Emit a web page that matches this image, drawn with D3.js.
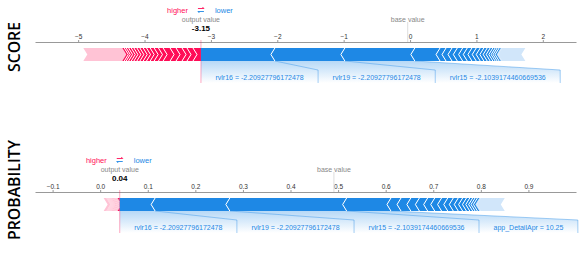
<!DOCTYPE html>
<html>
<head>
<meta charset="utf-8">
<script src="https://cdn.jsdelivr.net/npm/d3@7"></script>
<style>
  body { margin: 0; background: #fff; }
  svg { display: block; font-family: "Liberation Sans", Arial, sans-serif; }
</style>
</head>
<body>
<div id="app"></div>
<script>
// values (score units, log-odds)
const baseValue = -0.035;
const panelTitles = ["SCORE", "PROBABILITY"];
const labelNames = ["rvlr16", "rvlr19", "rvlr15", "app_DetailApr"];
const labelValues = ["-2.20927796172478", "-2.20927796172478", "-2.1039174460669536", "10.25"];
// features pushing lower, from the output value outwards
const lowerEffects = [1.114, 1.054, 1.054, 0.38, 0.09, 0.09, 0.08, 0.08, 0.07, 0.07, 0.065,
  0.06, 0.055, 0.05, 0.045, 0.04, 0.035, 0.03, 0.03, 0.025, 0.02];
const lowerRest = 0.35;
// features pushing higher, from the output value outwards
const higherEffects = [0.12, 0.09, 0.075, 0.09, 0.09, 0.105, 0.07, 0.065, 0.06, 0.055, 0.05,
  0.05, 0.045, 0.045, 0.04, 0.04, 0.035, 0.03, 0.03];
const higherRest = 0.587;
const scoreTicks = [-5, -4, -3, -2, -1, 0, 1, 2];
const probTicks = [-0.1, 0, 0.1, 0.2, 0.3, 0.4, 0.5, 0.6, 0.7, 0.8, 0.9];

const RED = "#ff0d57", RED_LIGHT = "#ffc3d5";
const BLUE = "#1e88e5", BLUE_LIGHT = "#d1e6fa";

const outputValue = baseValue + d3.sum(higherEffects) + higherRest
  - d3.sum(lowerEffects) - lowerRest;
const logistic = (v) => 1 / (1 + Math.exp(-v));

const svg = d3.select("#app").append("svg").attr("width", 586).attr("height", 256);
const defs = svg.append("defs");
const fade = defs.append("linearGradient").attr("id", "label-fade")
  .attr("x1", 0).attr("x2", 0).attr("y1", 0).attr("y2", 1);
fade.append("stop").attr("offset", "0%").attr("stop-color", BLUE).attr("stop-opacity", 0.32);
fade.append("stop").attr("offset", "100%").attr("stop-color", BLUE).attr("stop-opacity", 0);

const panels = [
  {
    title: panelTitles[0], dy: 0, titleY: 47, titleLen: 50,
    scale: d3.scaleLinear().domain([-5.65, 2.5]).range([35, 576]),
    link: (v) => v, ticks: scoreTicks, fmt: d3.format("d"),
    shown: (v) => v.toFixed(2), labelCount: 3,
  },
  {
    title: panelTitles[1], dy: 150, titleY: 190, titleLen: 100,
    scale: d3.scaleLinear().domain([-0.137, 1.0]).range([35, 576]),
    link: logistic, ticks: probTicks, fmt: d3.format(".1f"),
    shown: (v) => logistic(v).toFixed(2), labelCount: 4,
  },
];

panels.forEach((p) => {
  const g = svg.append("g").attr("transform", `translate(0,${p.dy})`);
  const px = (v) => p.scale(p.link(v));
  const outX = px(outputValue);
  const baseX = px(baseValue);
  const axisY = 42, barTop = 48, barH = 13, lblTop = 70, lblBot = 83;
  const barBot = barTop + barH, mid = barTop + barH / 2, tip = 4;

  // title
  svg.append("text")
    .attr("transform", `translate(20,${p.titleY}) rotate(-90)`)
    .attr("text-anchor", "middle")
    .attr("textLength", p.titleLen)
    .attr("lengthAdjust", "spacingAndGlyphs")
    .style("font-size", "17px")
    .style("font-weight", "600")
    .style("font-family", "'Open Sans', sans-serif")
    .style("fill", "#000")
    .text(p.title);

  // axis
  const axis = g.append("g").attr("transform", `translate(0,${axisY})`)
    .call(d3.axisTop(p.scale).tickValues(p.ticks).tickFormat(p.fmt)
      .tickSize(2).tickSizeOuter(0).tickPadding(1));
  axis.select(".domain").attr("stroke", "#999");
  axis.selectAll(".tick line").attr("stroke", "#999");
  axis.selectAll(".tick text").attr("fill", "#333").style("font-size", "6.5px")
    .style("font-family", "'Liberation Sans', Arial, sans-serif");

  // segments: dir +1 walks right from the output value, -1 walks left
  function segments(effects, rest, dir) {
    let cum = outputValue;
    return effects.concat([rest]).map((e, i) => {
      const from = cum;
      cum += dir * e;
      return { near: px(from), far: px(cum), first: i === 0, rest: i === effects.length };
    });
  }
  const lowerSegs = segments(lowerEffects, lowerRest, 1);
  const higherSegs = segments(higherEffects, higherRest, -1);

  // label boxes for the biggest lower features
  const lbl = g.append("g");
  let bx = outX;
  for (let i = 0; i < p.labelCount; i++) {
    const t = lbl.append("text").attr("y", lblBot - 3.5)
      .attr("text-anchor", "middle").style("font-size", "7px").attr("fill", BLUE)
      .text(`${labelNames[i]} = ${labelValues[i]}`);
    const w = t.node().getComputedTextLength() + 29;
    const s = lowerSegs[i];
    const x0 = Math.min(s.near, s.far), x1 = Math.max(s.near, s.far);
    lbl.insert("path", "text")
      .attr("d", `M${x0},${barBot}L${x1},${barBot}L${bx + w},${lblTop}L${bx + w},${lblBot}L${bx},${lblBot}L${bx},${lblTop}Z`)
      .attr("fill", "url(#label-fade)");
    lbl.append("path")
      .attr("d", `M${x1},${barBot}L${bx + w},${lblTop}L${bx + w},${lblBot}`)
      .attr("fill", "none").attr("stroke", BLUE).attr("stroke-opacity", 0.4).attr("stroke-width", 1);
    t.attr("x", bx + w / 2).raise();
    bx += w;
  }

  // output and base marker lines
  g.append("line").attr("x1", baseX).attr("x2", baseX).attr("y1", 22).attr("y2", axisY)
    .attr("stroke", "#ddd");
  g.append("line").attr("x1", outX).attr("x2", outX).attr("y1", axisY - 2).attr("y2", lblBot)
    .attr("stroke", RED).attr("stroke-opacity", 0.35);

  // s = direction the chevrons point (+1 right, -1 left)
  function drawBar(segs, s, color, light) {
    const bar = g.append("g");
    segs.slice().reverse().forEach((d) => {
      const thin = d.rest || Math.abs(d.near - d.far) < 1.6;
      const nearTip = d.first ? d.near : d.near + s * tip;
      bar.append("path")
        .attr("d", `M${d.near},${barTop}L${nearTip},${mid}L${d.near},${barBot}` +
          `L${d.far},${barBot}L${d.far + s * tip},${mid}L${d.far},${barTop}Z`)
        .attr("fill", thin ? light : color);
    });
    segs.forEach((d) => {
      const thin = d.rest || Math.abs(d.near - d.far) < 1.6;
      if (d.first || thin) return;
      bar.append("path")
        .attr("d", `M${d.near},${barTop}L${d.near + s * tip},${mid}L${d.near},${barBot}`)
        .attr("fill", "none").attr("stroke", "#fff").attr("stroke-width", 1);
    });
  }
  drawBar(higherSegs, 1, RED, RED_LIGHT);
  drawBar(lowerSegs, -1, BLUE, BLUE_LIGHT);

  // header
  g.append("text").attr("x", outX - 13).attr("y", 12.5).attr("text-anchor", "end")
    .style("font-size", "7.5px").attr("fill", RED).text("higher");
  g.append("text").attr("x", outX + 14).attr("y", 12.5).attr("text-anchor", "start")
    .style("font-size", "7.5px").attr("fill", BLUE).text("lower");
  g.append("path").attr("d", `M${outX - 3},8.5L${outX + 3},8.5M${outX + 1.5},7L${outX + 3},8.5`)
    .attr("stroke", RED).attr("fill", "none").attr("stroke-width", 0.9);
  g.append("path").attr("d", `M${outX + 3},11.5L${outX - 3},11.5M${outX - 1.5},13L${outX - 3},11.5`)
    .attr("stroke", BLUE).attr("fill", "none").attr("stroke-width", 0.9);
  g.append("text").attr("x", outX).attr("y", 21.5).attr("text-anchor", "middle")
    .style("font-size", "7px").attr("fill", "#888").text("output value");
  g.append("text").attr("x", outX).attr("y", 31).attr("text-anchor", "middle")
    .style("font-size", "8px").style("font-weight", "bold").attr("fill", "#000")
    .text(p.shown(outputValue));
  g.append("text").attr("x", baseX).attr("y", 21.5).attr("text-anchor", "middle")
    .style("font-size", "7px").attr("fill", "#888").text("base value");
});
</script>
</body>
</html>
